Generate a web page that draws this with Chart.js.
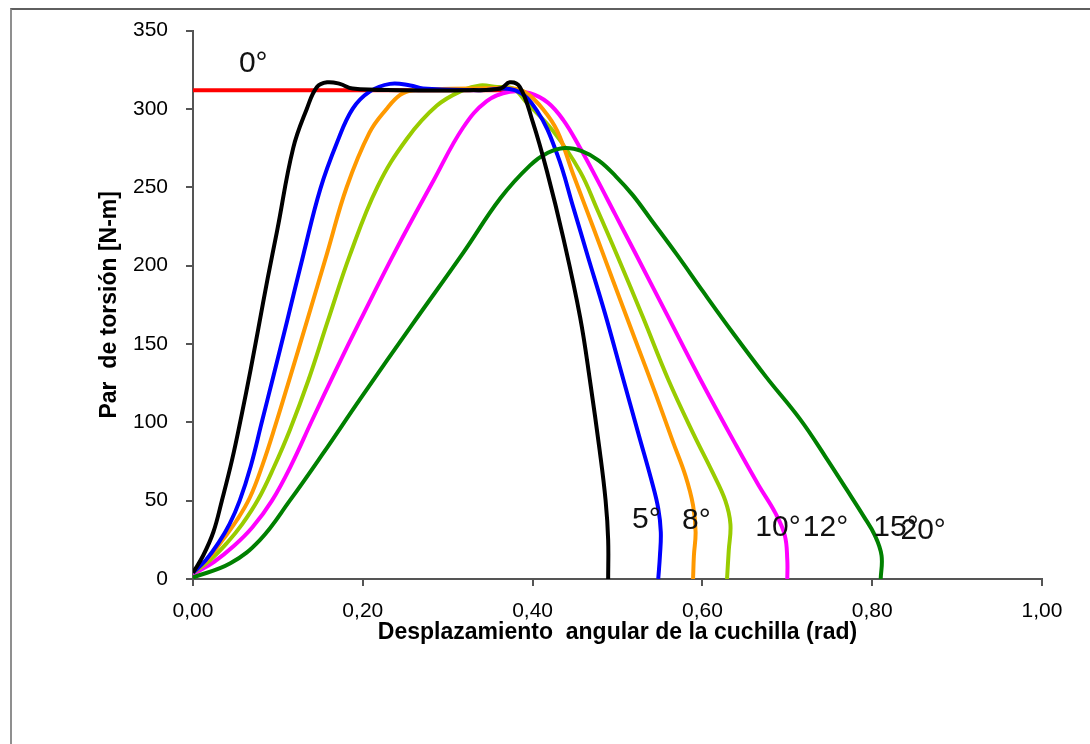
<!DOCTYPE html>
<html>
<head>
<meta charset="utf-8">
<script src="https://cdn.jsdelivr.net/npm/chart.js@4.4.1/dist/chart.umd.min.js"></script>
<style>
    html, body { margin: 0; padding: 0; background: #ffffff; }
    #wrap { position: relative; width: 1090px; height: 744px; overflow: hidden; }
    #frame { position: absolute; left: 10px; top: 8px; right: -10px; bottom: -10px;
             border-top: 2px solid #5f5f5f; border-left: 2px solid #8f8f8f; }
    #chart { position: absolute; left: 0; top: 0; }
</style>
</head>
<body>
<div id="wrap">
    <div id="frame"></div>
    <canvas id="chart" width="1090" height="744"></canvas>
</div>
<script>
// Curves: x = angular displacement (rad), y = torque (N-m)
const x0deg = [0, 0.37];
const y0deg = [312, 312];

const x5deg = [0, 0.012, 0.024, 0.034, 0.046, 0.057, 0.068, 0.077, 0.088, 0.099, 0.118, 0.134, 0.146, 0.158, 0.173, 0.188, 0.244, 0.326, 0.362, 0.373, 0.385, 0.400, 0.417, 0.436, 0.456, 0.468, 0.479, 0.486, 0.489, 0.489];
const y5deg = [4, 15, 30, 50, 76, 104, 134, 160, 192, 222, 275, 300, 314, 317, 316, 313, 312, 312, 313, 317, 314, 292, 260, 218, 167, 125, 82, 50, 25, 0];

const x8deg = [0, 0.015, 0.030, 0.043, 0.055, 0.068, 0.081, 0.094, 0.111, 0.130, 0.150, 0.170, 0.188, 0.208, 0.232, 0.256, 0.271, 0.338, 0.379, 0.405, 0.429, 0.448, 0.465, 0.485, 0.505, 0.525, 0.540, 0.548, 0.551, 0.550, 0.548];
const y8deg = [4, 12, 23, 35, 50, 72, 100, 128, 165, 207, 249, 279, 300, 311, 316, 315, 313, 312, 312, 299, 271, 237, 206, 170, 131, 92, 63, 45, 30, 15, 0];

const x10deg = [0, 0.018, 0.035, 0.051, 0.067, 0.082, 0.097, 0.115, 0.135, 0.158, 0.181, 0.208, 0.228, 0.244, 0.259, 0.326, 0.377, 0.393, 0.412, 0.429, 0.448, 0.471, 0.495, 0.520, 0.545, 0.565, 0.580, 0.589, 0.592, 0.590, 0.589];
const y10deg = [4, 13, 25, 37, 52, 73, 98, 130, 166, 208, 250, 285, 300, 309, 312, 313, 313, 310, 300, 286, 258, 225, 190, 154, 118, 88, 66, 47, 30, 15, 0];

const x12deg = [0, 0.020, 0.040, 0.058, 0.077, 0.095, 0.114, 0.136, 0.159, 0.185, 0.217, 0.252, 0.287, 0.318, 0.338, 0.358, 0.377, 0.393, 0.424, 0.456, 0.476, 0.500, 0.530, 0.560, 0.590, 0.612, 0.627, 0.633, 0.631, 0.629];
const y12deg = [4, 12, 23, 35, 51, 71, 95, 127, 165, 207, 250, 281, 302, 312, 315, 314, 313, 304, 286, 260, 236, 206, 167, 127, 92, 68, 50, 35, 18, 0];

const x15deg = [0, 0.025, 0.048, 0.070, 0.093, 0.116, 0.140, 0.168, 0.197, 0.240, 0.283, 0.318, 0.346, 0.373, 0.397, 0.418, 0.436, 0.455, 0.475, 0.497, 0.520, 0.558, 0.597, 0.640, 0.666, 0.686, 0.697, 0.700, 0.700];
const y15deg = [3, 11, 21, 33, 50, 73, 101, 133, 165, 211, 254, 288, 305, 311, 310, 304, 293, 276, 256, 233, 209, 169, 128, 85, 60, 42, 28, 12, 0];

const x20deg = [0, 0.044, 0.079, 0.114, 0.153, 0.197, 0.259, 0.318, 0.362, 0.397, 0.418, 0.438, 0.458, 0.478, 0.498, 0.518, 0.540, 0.570, 0.600, 0.636, 0.675, 0.715, 0.745, 0.770, 0.790, 0.803, 0.811, 0.810];
const y20deg = [1, 10, 25, 50, 80, 115, 163, 208, 243, 264, 272, 275, 273, 267, 257, 245, 229, 207, 184, 157, 129, 102, 78, 57, 40, 28, 15, 0];

const seriesNames = ['0°', '5°', '8°', '10°', '12°', '15°', '20°'];

// Text labels placed on the plot (data units)
const labelText = ['0°', '5°', '8°', '10°', '12°', '15°', '20°'];
const labelX = [0.071, 0.534, 0.593, 0.689, 0.745, 0.828, 0.860];
const labelY = [329, 38, 37, 33, 33, 33, 31];

const yTicksMax = 350;
const xTicksMax = 1.0;

function pts(xs, ys) {
    return xs.map((x, i) => ({ x: x, y: ys[i] }));
}

function line(label, xs, ys, color, order) {
    return {
        label: label,
        data: pts(xs, ys),
        borderColor: color,
        backgroundColor: color,
        borderWidth: 4,
        pointRadius: 0,
        tension: 0.4,
        fill: false,
        order: order
    };
}

const FONT = '"Liberation Sans", Arial, sans-serif';

// Draws the degree labels on top of the curves
const degreeLabels = {
    id: 'degreeLabels',
    afterDatasetsDraw(chart) {
        const ctx = chart.ctx;
        const xs = chart.scales.x;
        const ys = chart.scales.y;
        ctx.save();
        ctx.fillStyle = '#111111';
        ctx.font = '30px ' + FONT;
        ctx.textAlign = 'center';
        ctx.textBaseline = 'middle';
        labelText.forEach((t, i) => {
            ctx.fillText(t, xs.getPixelForValue(labelX[i]), ys.getPixelForValue(labelY[i]));
        });
        ctx.restore();
    }
};

const config = {
    type: 'line',
    data: {
        datasets: [
            line(seriesNames[0], x0deg, y0deg, '#ff0000', 9),
            line(seriesNames[1], x5deg, y5deg, '#000000', 1),
            line(seriesNames[2], x8deg, y8deg, '#0000ff', 3),
            line(seriesNames[3], x10deg, y10deg, '#ff9900', 4),
            line(seriesNames[4], x12deg, y12deg, '#99cc00', 5),
            line(seriesNames[5], x15deg, y15deg, '#ff00ff', 6),
            line(seriesNames[6], x20deg, y20deg, '#008000', 2)
        ]
    },
    options: {
        responsive: false,
        animation: false,
        events: [],
        layout: { padding: { left: 0, top: 29, right: 48, bottom: 0 } },
        plugins: {
            legend: { display: false },
            tooltip: { enabled: false }
        },
        scales: {
            x: {
                type: 'linear',
                min: 0,
                max: xTicksMax,
                afterFit(scale) { scale.height = 165; },
                border: { display: true, color: '#555555', width: 2 },
                grid: { drawOnChartArea: false, drawTicks: true, tickLength: 7, color: '#555555', lineWidth: 2 },
                ticks: {
                    stepSize: 0.2,
                    padding: 13,
                    color: '#000000',
                    font: { family: FONT, size: 21 },
                    callback: (v) => v.toFixed(2).replace('.', ',')
                },
                title: {
                    display: true,
                    text: 'Desplazamiento  angular de la cuchilla (rad)',
                    color: '#000000',
                    font: { family: FONT, size: 23, weight: 'bold' },
                    padding: { top: 0, bottom: 98 }
                }
            },
            y: {
                type: 'linear',
                min: 0,
                max: yTicksMax,
                afterFit(scale) { scale.width = 193; },
                border: { display: true, color: '#555555', width: 2 },
                grid: { drawOnChartArea: false, drawTicks: true, tickLength: 7, color: '#555555', lineWidth: 2 },
                ticks: {
                    stepSize: 50,
                    padding: 18,
                    color: '#000000',
                    font: { family: FONT, size: 21 }
                },
                title: {
                    display: true,
                    text: 'Par  de torsión [N-m]',
                    color: '#000000',
                    font: { family: FONT, size: 23, weight: 'bold' },
                    padding: { top: 96, bottom: 0 }
                }
            }
        }
    },
    plugins: [degreeLabels]
};

new Chart(document.getElementById('chart'), config);
</script>
</body>
</html>
